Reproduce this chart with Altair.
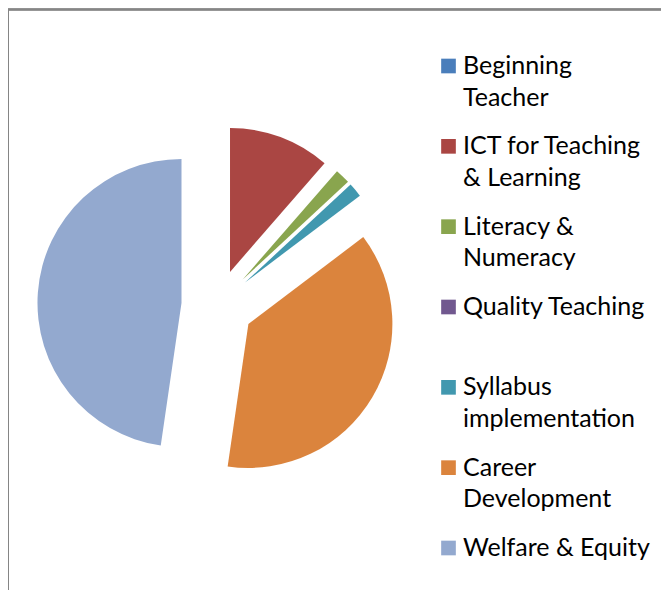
import math
import altair as alt
import pandas as pd

# ---- data ----
categories = [
    "Beginning Teacher",
    "ICT for Teaching & Learning",
    "Literacy & Numeracy",
    "Quality Teaching",
    "Syllabus implementation",
    "Career Development",
    "Welfare & Equity",
]
legend_labels = [
    "Beginning\nTeacher",
    "ICT for Teaching\n& Learning",
    "Literacy &\nNumeracy",
    "Quality Teaching",
    "Syllabus\nimplementation",
    "Career\nDevelopment",
    "Welfare & Equity",
]
values = [0, 11.4, 1.7, 0, 1.6, 37.6, 47.7]
colors = ["#4A7EBB", "#AA4643", "#89A54E", "#71588F", "#4198AF", "#DB843D", "#93A9CF"]

# ---- layout / style ----
W, H = 653, 582
R = 144                 # pie radius (px)
CX, CY = 209.4, 297.6   # pie centre inside the plot area (px)
EXPLODE = 0.25          # explosion, fraction of radius
FONT = "Lato"

df = pd.DataFrame({
    "order": list(range(len(categories))),
    "category": categories,
    "label": legend_labels,
    "value": values,
})

# scales in "radius units" so the explosion offset goes through the scales
x_dom = [-CX / R, (W - CX) / R]
y_dom = [-(H - CY) / R, CY / R]

base = alt.Chart(df)

pie = (
    base.transform_window(cum="sum(value)", sort=[{"field": "order"}])
    .transform_joinaggregate(total="sum(value)")
    .transform_calculate(
        start="(datum.cum - datum.value) / datum.total",
        end="datum.cum / datum.total",
    )
    .transform_calculate(mid="PI * (datum.start + datum.end)")
    .transform_calculate(
        ex=f"{EXPLODE} * sin(datum.mid)",
        ey=f"{EXPLODE} * cos(datum.mid)",
    )
    .mark_arc(radius=R, stroke=None)
    .encode(
        theta=alt.Theta("start:Q", scale=alt.Scale(domain=[0, 1], range=[0, 2 * math.pi])),
        theta2="end:Q",
        x=alt.X("ex:Q", scale=alt.Scale(domain=x_dom, nice=False, zero=False), axis=None),
        y=alt.Y("ey:Q", scale=alt.Scale(domain=y_dom, nice=False, zero=False), axis=None),
        color=alt.Color("category:N", scale=alt.Scale(domain=categories, range=colors), legend=None),
    )
)

leg_y = alt.Y(
    "category:N",
    scale=alt.Scale(type="point", domain=categories, range=[58, 540], padding=0),
    axis=None,
)

leg_sq = base.mark_square(size=215, opacity=1).encode(
    x=alt.value(440.5),
    y=leg_y,
    color=alt.Color("category:N", scale=alt.Scale(domain=categories, range=colors), legend=None),
)

leg_txt = base.mark_text(
    align="left", baseline="alphabetic", dy=8, lineBreak="\n", lineHeight=31.5,
    font=FONT, fontSize=25, color="#000000",
).encode(
    x=alt.value(455),
    y=leg_y,
    text="label:N",
)

frame_left = base.mark_rule(color="#868686", strokeWidth=1.6).encode(
    x=alt.value(0), y=alt.value(1.5), y2=alt.value(H)
)
frame_top = base.mark_rule(color="#868686", strokeWidth=1.6).encode(
    x=alt.value(0), x2=alt.value(W), y=alt.value(1.5)
)

chart = (
    alt.layer(pie, leg_sq, leg_txt, frame_left, frame_top)
    .resolve_scale(x="independent", y="independent")
    .properties(width=W, height=H, padding=0, autosize=alt.AutoSizeParams(type="none"))
    .configure_view(stroke=None)
    .configure(background="white")
)

chart.save("out.html", embed_options={"renderer": "svg", "actions": False})
